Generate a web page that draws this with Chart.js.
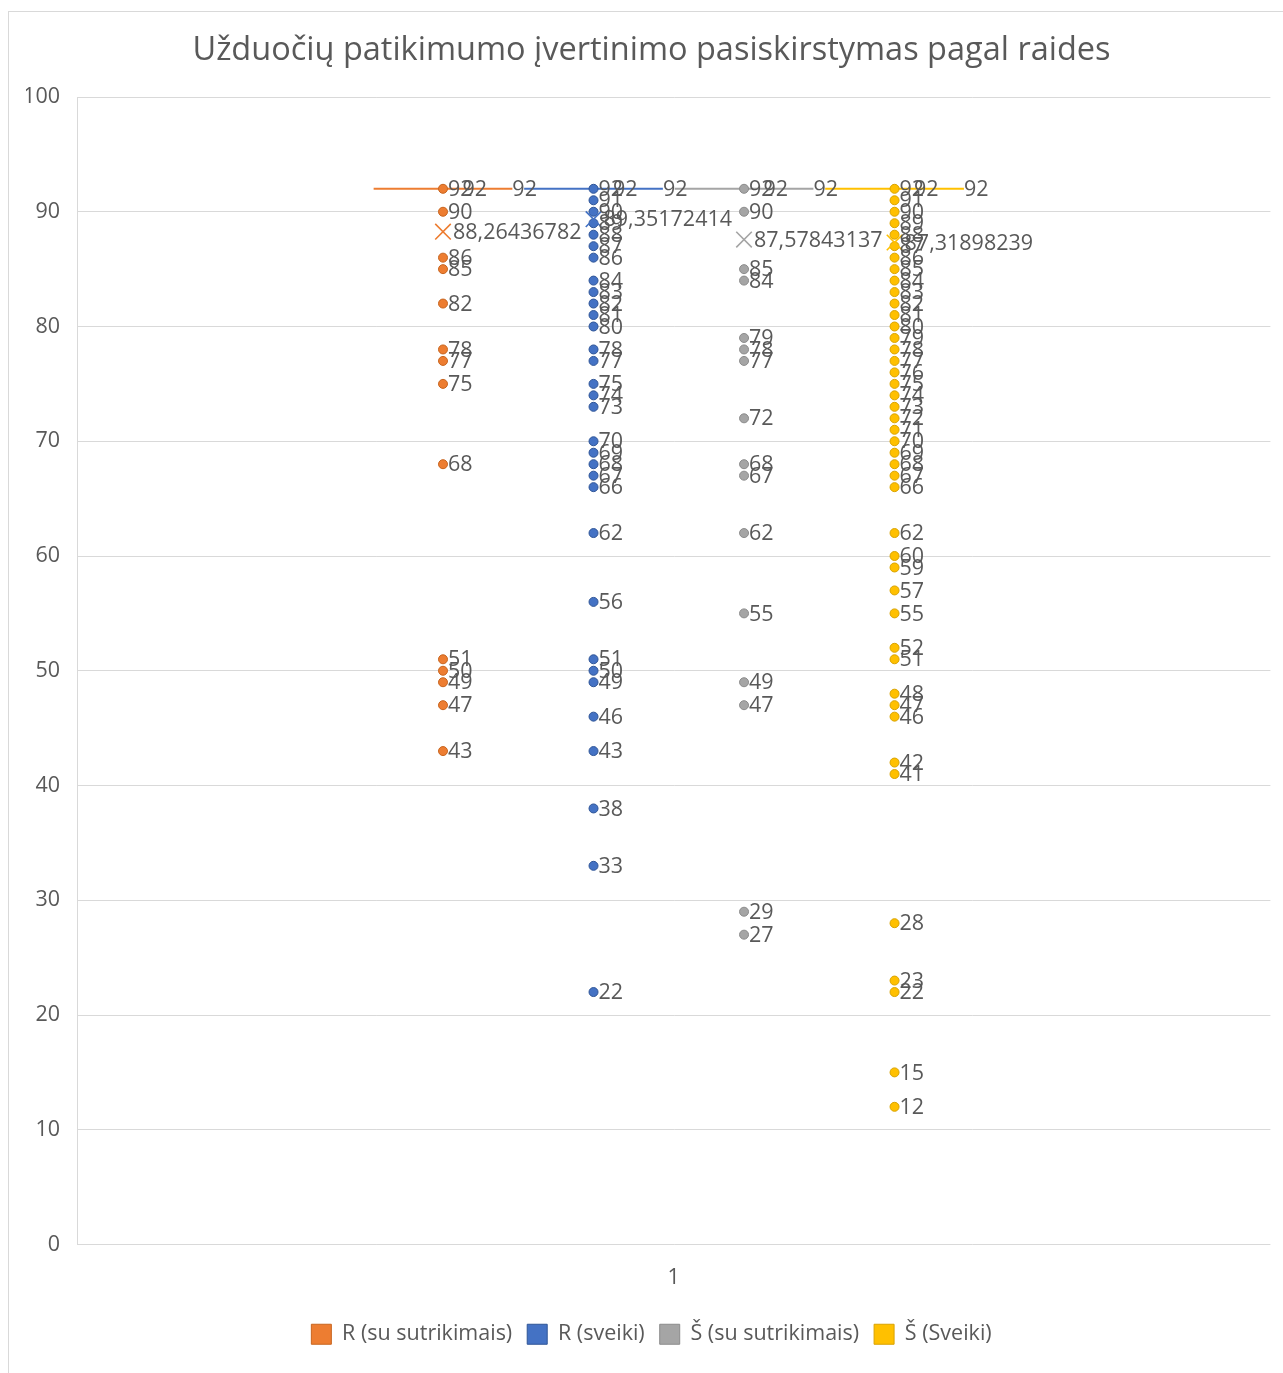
<!DOCTYPE html>
<html>
<head>
<meta charset="utf-8">
<script src="https://cdn.jsdelivr.net/npm/chart.js@4.4.1/dist/chart.umd.min.js"></script>
<style>
  html, body { margin: 0; padding: 0; background: #ffffff; overflow: hidden; width: 1283px; height: 1373px; }
  #wrap { position: absolute; left: 0; top: 0; width: 1283px; height: 1373px; overflow: hidden; }
  canvas { display: block; }
</style>
</head>
<body>
<div id="wrap"><canvas id="c" width="1283" height="1373"></canvas></div>
<script>
// ---- data ----
const categories = ['1'];
const seriesNames = ['R (su sutrikimais)', 'R (sveiki)', 'Š (su sutrikimais)', 'Š (Sveiki)'];
const rSuSutrikimais = [92, 90, 86, 85, 82, 78, 77, 75, 68, 51, 50, 49, 47, 43];
const rSveiki = [92, 91, 90, 89, 88, 87, 86, 84, 83, 82, 81, 80, 78, 77, 75, 74, 73, 70, 69, 68, 67, 66, 62, 56, 51, 50, 49, 46, 43, 38, 33, 22];
const sSuSutrikimais = [92, 90, 85, 84, 79, 78, 77, 72, 68, 67, 62, 55, 49, 47, 29, 27];
const sSveiki = [92, 91, 90, 89, 88, 87, 86, 85, 84, 83, 82, 81, 80, 79, 78, 77, 76, 75, 74, 73, 72, 71, 70, 69, 68, 67, 66, 62, 60, 59, 57, 55, 52, 51, 48, 47, 46, 42, 41, 28, 23, 22, 15, 12];
const meanValues = [88.26436782, 89.35172414, 87.57843137, 87.31898239];
const boxLevels = [92, 92, 92, 92];   // quartiles / median (collapsed box)
const yMin = 0, yMax = 100, yStep = 10;

// ---- styling ----
const colors = ['#ED7D31', '#4472C4', '#A5A5A5', '#FFC000'];
const borders = ['#C8651F', '#2F5597', '#8C8C8C', '#D9A300'];
const textColor = '#595959';
const gridColor = '#D9D9D9';
const FONT = "'Open Sans', 'DejaVu Sans', sans-serif";
const LBL = 21.5;

const seriesValues = [rSuSutrikimais, rSveiki, sSuSutrikimais, sSveiki];
const nSeries = seriesValues.length;
const slot = 1.009;              // category slot width per series
const shift = -0.033;
const halfBox = 0.465;
function seriesCenter(i) { return (i - (nSeries - 1) / 2) * slot + shift; }
function fmt(v) { return String(v).replace('.', ','); }

const datasets = [];
seriesValues.forEach((vals, i) => {
  const cx = seriesCenter(i);
  datasets.push({
    label: seriesNames[i], kind: 'points', sIdx: i,
    type: 'scatter',
    data: vals.map(v => ({ x: cx, y: v })),
    backgroundColor: colors[i], borderColor: borders[i], borderWidth: 1,
    pointRadius: 4.5, pointHoverRadius: 4.5, order: 1
  });
});
seriesValues.forEach((vals, i) => {
  const cx = seriesCenter(i);
  datasets.push({
    label: seriesNames[i] + ' mean', kind: 'mean', sIdx: i,
    type: 'scatter',
    data: [{ x: cx, y: meanValues[i] }],
    pointStyle: 'crossRot', pointRadius: 11, pointHoverRadius: 11,
    borderColor: colors[i], backgroundColor: colors[i], pointBorderWidth: 1.6, order: 0
  });
  datasets.push({
    label: seriesNames[i] + ' box', kind: 'box', sIdx: i,
    type: 'line',
    data: [{ x: cx - halfBox, y: boxLevels[i] }, { x: cx + halfBox, y: boxLevels[i] }],
    borderColor: colors[i], borderWidth: 2, pointRadius: 0, showLine: true, order: 2
  });
});

const labelPlugin = {
  id: 'valueLabels',
  afterDatasetsDraw(chart) {
    const ctx = chart.ctx;
    const xs = chart.scales.x;
    ctx.save();
    ctx.font = LBL + "px " + FONT;
    ctx.fillStyle = textColor;
    ctx.textBaseline = 'middle';
    ctx.textAlign = 'left';
    chart.data.datasets.forEach((ds, di) => {
      if (ds.kind !== 'points') return;
      const meta = chart.getDatasetMeta(di);
      meta.data.forEach((el, k) => {
        ctx.fillText(String(ds.data[k].y), el.x + 5, el.y + 1);
      });
    });
    chart.data.datasets.forEach((ds, di) => {
      if (ds.kind !== 'box') return;
      const meta = chart.getDatasetMeta(di);
      const cx = seriesCenter(ds.sIdx);
      const y = meta.data[0].y + 1;
      ctx.fillText(String(boxLevels[ds.sIdx]), xs.getPixelForValue(cx + 0.13), y);
      ctx.fillText(String(boxLevels[ds.sIdx]), xs.getPixelForValue(cx + halfBox), y);
    });
    chart.data.datasets.forEach((ds, di) => {
      if (ds.kind !== 'mean') return;
      const meta = chart.getDatasetMeta(di);
      const el = meta.data[0];
      ctx.fillText(fmt(meanValues[ds.sIdx]), el.x + 10, el.y + 1);
    });
    ctx.restore();
  }
};

const framePlugin = {
  id: 'frame',
  beforeDraw(chart) {
    const ctx = chart.ctx;
    ctx.save();
    ctx.fillStyle = '#ffffff';
    ctx.fillRect(0, 0, chart.width, chart.height);
    ctx.strokeStyle = gridColor;
    ctx.lineWidth = 1;
    ctx.strokeRect(8.5, 11.5, chart.width + 10, chart.height + 10);
    ctx.restore();
  }
};

new Chart(document.getElementById('c'), {
  type: 'scatter',
  data: { datasets },
  plugins: [framePlugin, labelPlugin],
  options: {
    responsive: false,
    devicePixelRatio: 1,
    animation: false,
    events: [],
    layout: { padding: { left: 26, right: 6, top: 0, bottom: 18 } },
    scales: {
      x: {
        type: 'linear', min: -4, max: 4,
        grid: { display: false, drawTicks: false },
        border: { display: false },
        afterBuildTicks(scale) { scale.ticks = [{ value: 0 }]; },
        afterFit(scale) { scale.height = 64; scale.paddingLeft = 0; scale.paddingRight = 0; },
        ticks: {
          padding: 20, color: textColor, font: { size: LBL, family: FONT },
          callback: () => categories[0]
        }
      },
      y: {
        min: yMin, max: yMax,
        grid: { color: gridColor, lineWidth: 1, drawTicks: false },
        border: { display: true, color: gridColor, width: 1 },
        afterFit(scale) { scale.width = 51; },
        ticks: { stepSize: yStep, padding: 17, color: textColor, font: { size: LBL, family: FONT } }
      }
    },
    plugins: {
      title: {
        display: true,
        text: 'Užduočių patikimumo įvertinimo pasiskirstymas pagal raides',
        color: textColor,
        font: { size: 32.5, family: FONT, weight: 'normal' },
        padding: { top: 31, bottom: 27 }
      },
      legend: {
        position: 'bottom',
        labels: {
          color: textColor,
          font: { size: LBL, family: FONT },
          boxWidth: 20, boxHeight: 20, padding: 15,
          filter: (item, data) => data.datasets[item.datasetIndex].kind === 'points'
        }
      },
      tooltip: { enabled: false }
    }
  }
});
</script>
</body>
</html>
